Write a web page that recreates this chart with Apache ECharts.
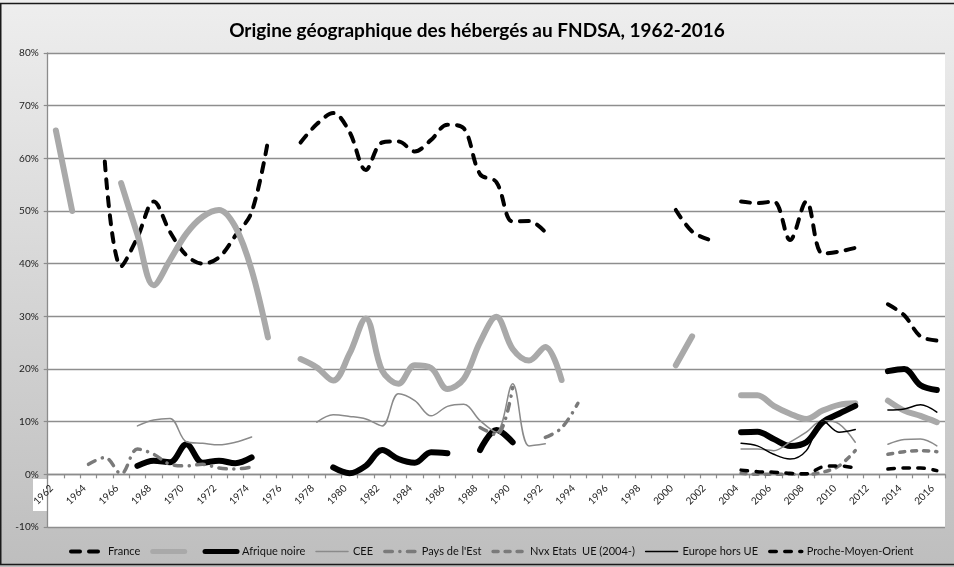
<!DOCTYPE html>
<html>
<head>
<meta charset="utf-8">
<script src="https://cdn.jsdelivr.net/npm/echarts@6/dist/echarts.min.js"></script>
<style>
html,body{margin:0;padding:0;background:#fff;}
#c{width:954px;height:567px;}
</style>
</head>
<body>
<div id="c"></div>
<script>
// Years 1962..2016
const years = [];
for (let y = 1962; y <= 2016; y++) years.push(String(y));
const _ = null;

const yTicks = [-10, 0, 10, 20, 30, 40, 50, 60, 70, 80];

// values in %, one entry per year 1962..2016
const france = [
  _, _, _, 59.4, 39.5, 45, 51.8, 46, 41.6, 40, 41.2, 45.3, 49.8, 63.3,
  _, 63, 66.5, 68.6, 65, 57.8, 63, 63.2, 61.3, 63.5, 66.4, 65.7, 57, 55.5, 48, 48.1, 46,
  _, _, _, _, _, _, _, 50.2, 46.1, 44.6,
  _, 51.8, 51.5, 51.8, 44.5, 51.8, 41.9, 42.3, 43,
  _, 32.3, 30.2, 26.2, 25.4
];
const grisEpais = [
  65.3, 50, _, _, 55.3, 45.5, 35.9, 40.7, 45.7, 48.9, 50.2, 47, 38.8, 26,
  _, 21.9, 20.3, 17.8, 22.9, 29.6, 19.7, 17.2, 20.7, 20.2, 16.2, 18.1, 25.1, 29.9, 23.8, 21.6, 24.2, 17.9,
  _, _, _, _, _, _, 20.7, 26.2, _,
  _, 15, 15, 13, 11.5, 10.5, 12.1, 13.2, 13.5,
  _, 14, 12.1, 11.1, 9.9
];
const afriqueNoire = [
  _, _, _, _, _, 1.6, 2.6, 2.3, 5.7, 2.2, 2.6, 2.1, 3.2, _,
  _, _, _, 1.3, 0.2, 1.6, 4.6, 2.9, 2.2, 4.2, 4, _, 4.6, 8.4, 6.1, _, _, _,
  _, _, _, _, _, _, _, _, _,
  _, 8, 8.1, 6.7, 5.4, 6.1, 9.9, 11.5, 13,
  _, 19.6, 20, 16.9, 16
];
const cee = [
  _, _, _, _, _, 9.2, 10.3, 10.6, 6.2, 5.9, 5.6, 6.1, 7.1, _,
  _, _, 9.9, 11.3, 11, 10.5, 9.2, 15.3, 14, 11.1, 12.9, 13.3, 10.2, 8, 17.2, 5.4, 5.8, _,
  _, _, _, _, _, _, _, _, _,
  _, 4.8, 4.8, 4.5, 6.1, 8, 10.2, 9.6, 6.1,
  _, 5.7, 6.6, 6.7, 5.4
];
const paysEst = [
  _, _, 1.9, 3.2, 0.1, 4.8, 3.8, 1.9, 1.6, 1.9, 1.2, 1.0, 1.4, _,
  _, _, _, _, _, _, _, _, _, _, _, _, 8.9, 7.5, 16.5, _, 7, 8.8,
  13.5, _, _, _, _, _, _, _, _,
  _, _, _, _, _, _, _, _, _,
  _, _, _, _, _
];
const nvxEtatsUE = [
  _, _, _, _, _, _, _, _, _, _, _, _, _, _,
  _, _, _, _, _, _, _, _, _, _, _, _, _, _, _, _, _, _,
  _, _, _, _, _, _, _, _, _,
  _, 0.2, 0, 0, 0, 0, 0.4, 1.6, 4.5,
  _, 3.8, 4.3, 4.5, 4.3
];
const europeHorsUE = [
  _, _, _, _, _, _, _, _, _, _, _, _, _, _,
  _, _, _, _, _, _, _, _, _, _, _, _, _, _, _, _, _, _,
  _, _, _, _, _, _, _, _, _,
  _, 5.9, 5.4, 3.8, 2.9, 4.5, 10.2, 8, 8.5,
  _, 12.2, 12.4, 13.2, 11.8
];
const procheMoyenOrient = [
  _, _, _, _, _, _, _, _, _, _, _, _, _, _,
  _, _, _, _, _, _, _, _, _, _, _, _, _, _, _, _, _, _,
  _, _, _, _, _, _, _, _, _,
  _, 0.8, 0.5, 0.4, 0.2, 0.1, 1.4, 1.6, 1.2,
  _, 1, 1.2, 1.2, 0.7
];

const seriesNames = ['France', ' ', 'Afrique noire', 'CEE', "Pays de l'Est", 'Nvx Etats  UE (2004-)', 'Europe hors UE', 'Proche-Moyen-Orient'];
const seriesData = [france, grisEpais, afriqueNoire, cee, paysEst, nvxEtatsUE, europeHorsUE, procheMoyenOrient];
const styles = [
  {color: '#000000', width: 4, type: [9, 9]},
  {color: '#a9a9a9', width: 6, type: 'solid'},
  {color: '#000000', width: 6, type: 'solid'},
  {color: '#8a8a8a', width: 1.5, type: 'solid'},
  {color: '#7a7a7a', width: 3.5, type: [7.5, 7.5, 0.1, 7.5]},
  {color: '#7a7a7a', width: 3.5, type: [5, 7]},
  {color: '#000000', width: 1.5, type: 'solid'},
  {color: '#000000', width: 3.5, type: [6.5, 8.5]}
];

const FONT = 'Lato';
const GRID_TOP = 53, GRID_BOTTOM = 40, GRID_H = 567 - GRID_TOP - GRID_BOTTOM;
// distance from bottom of grid (at min) up to the zero line
const zeroOffset = -GRID_H * (0 - yTicks[0]) / (yTicks[yTicks.length - 1] - yTicks[0]);

const chart = echarts.init(document.getElementById('c'), null, {renderer: 'canvas'});
const option = {
  animation: false,
  backgroundColor: {
    type: 'linear', x: 0, y: 0, x2: 0, y2: 1,
    colorStops: [{offset: 0, color: '#eeeeee'}, {offset: 1, color: '#bebebe'}]
  },
  textStyle: {fontFamily: FONT},
  title: {
    text: 'Origine géographique des hébergés au FNDSA, 1962-2016',
    left: 'center',
    top: 16,
    textStyle: {fontFamily: FONT, fontWeight: 'bold', fontSize: 19, color: '#000'}
  },
  legend: {
    data: seriesNames.map((n, i) => ({
      name: n,
      lineStyle: {width: Math.min(styles[i].width, 5), type: styles[i].type, color: styles[i].color, cap: 'round'}
    })),
    left: 64,
    top: 541,
    itemWidth: 32,
    itemHeight: 10,
    itemGap: 10,
    itemStyle: {color: 'rgba(0,0,0,0)', borderWidth: 0, opacity: 0},
    textStyle: {fontFamily: FONT, fontSize: 11, color: '#111'}
  },
  graphic: [
    {type: 'rect', z: -5, shape: {x: 33, y: 479, width: 16, height: 32}, style: {fill: '#ffffff'}, silent: true},
    {type: 'rect', z: 100, shape: {x: 0.75, y: 3.5, width: 960, height: 561}, style: {fill: 'none', stroke: '#1a1a1a', lineWidth: 1.5}, silent: true}
  ],
  grid: {
    left: 47.7, right: 9, top: GRID_TOP, bottom: GRID_BOTTOM,
    show: true, backgroundColor: '#ffffff', borderWidth: 0
  },
  xAxis: {
    type: 'category',
    data: years,
    position: 'bottom',
    offset: zeroOffset,
    boundaryGap: true,
    axisLine: {onZero: false, lineStyle: {color: '#8c8c8c', width: 1.3}},
    axisTick: {show: true, interval: 0, length: 4, lineStyle: {color: '#8c8c8c', width: 1.2}},
    axisLabel: {
      interval: 1, rotate: 45, fontSize: 10, color: '#222', margin: 8,
      fontFamily: FONT, padding: [0, 6, 0, 0]
    },
    splitLine: {show: false}
  },
  yAxis: {
    type: 'value',
    min: yTicks[0], max: yTicks[yTicks.length - 1], interval: 10,
    axisLine: {show: true, lineStyle: {color: '#8c8c8c', width: 1.3}},
    axisTick: {show: true, length: 4, lineStyle: {color: '#8c8c8c', width: 1.2}},
    axisLabel: {formatter: '{value}%', fontSize: 10, color: '#222', margin: 9, fontFamily: FONT},
    splitLine: {show: true, lineStyle: {color: '#8e8e8e', width: 1.3}}
  },
  series: seriesNames.map((n, i) => ({
    name: n,
    type: 'line',
    data: seriesData[i],
    smooth: 0.35,
    symbol: 'none',
    connectNulls: false,
    itemStyle: {color: styles[i].color},
    lineStyle: {color: styles[i].color, width: styles[i].width, type: styles[i].type, cap: 'round', join: 'round'}
  }))
};
chart.setOption(option);
</script>
</body>
</html>
